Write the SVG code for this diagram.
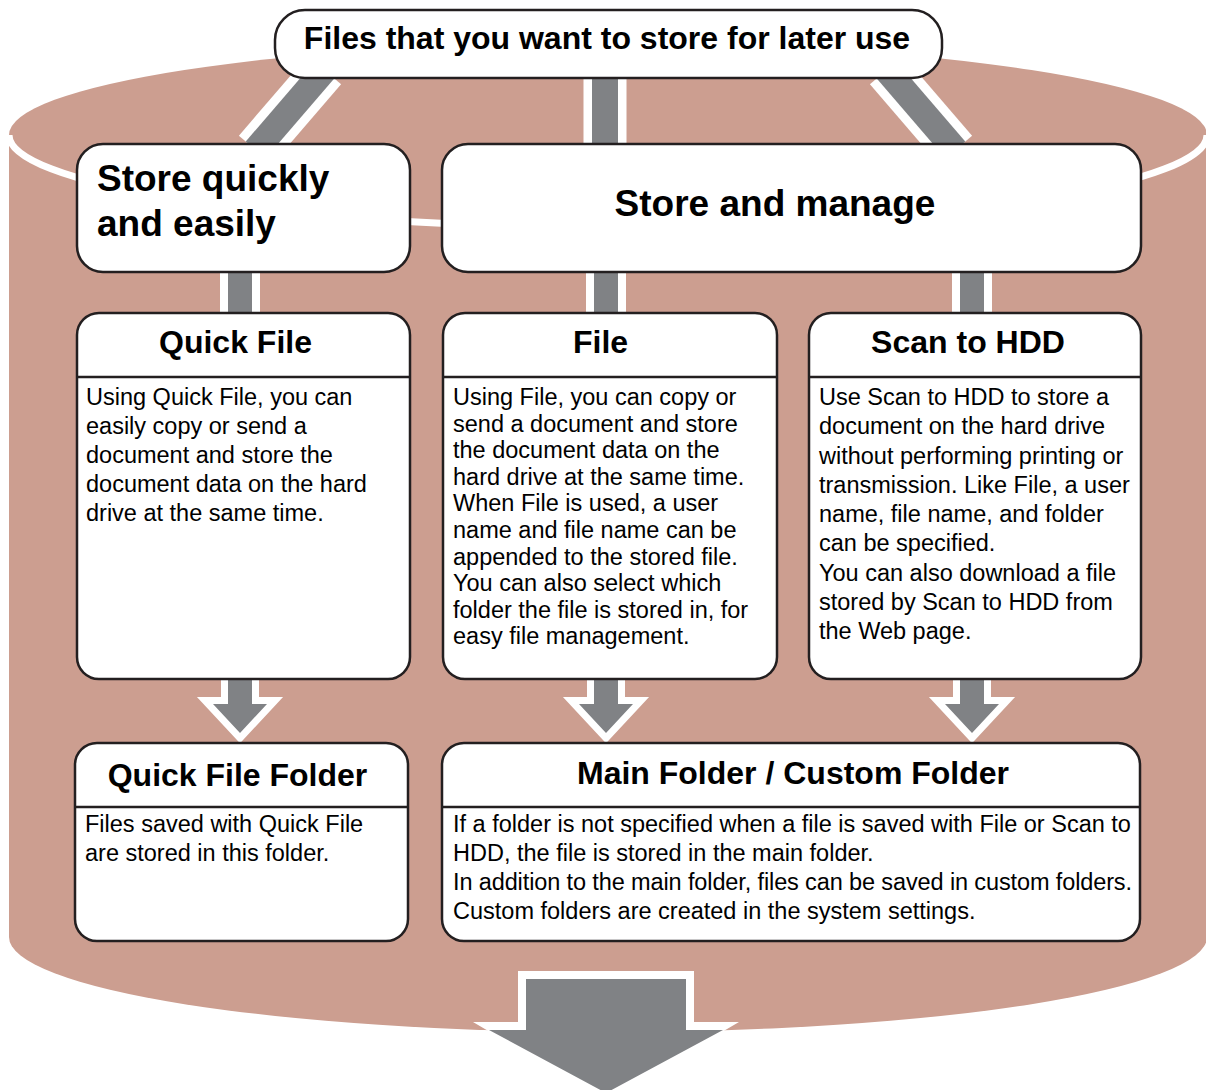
<svg xmlns="http://www.w3.org/2000/svg" width="1206" height="1090" viewBox="0 0 1206 1090">
<style>
.box{fill:#fff;stroke:#231f20;stroke-width:2.5}
.sep{stroke:#231f20;stroke-width:2.5}
.t{font-family:"Liberation Sans",Arial,sans-serif;fill:#000}
.h{font-weight:bold;font-size:32px}
.big{font-weight:bold;font-size:37px}
.b{font-size:23.5px}
.wl{stroke:#fff;fill:none}
.gl{stroke:#808285;fill:none}
.arr{fill:#808285;stroke:#fff;stroke-linejoin:miter;stroke-miterlimit:10;paint-order:stroke}
</style>
<g id="cylinder">
<path d="M9,135 V937 A599,95 0 0 0 1207,937 V135 Z" fill="#cc9e90"/>
<ellipse cx="608" cy="135" rx="599" ry="92" fill="#cc9e90"/>
<path d="M9,135 A599,92 0 0 0 1207,135" class="wl" stroke-width="7"/>
</g>
<g id="connectors">
<line x1="324.4" y1="70" x2="255.6" y2="150" class="wl" stroke-width="44"/>
<line x1="324.4" y1="70" x2="255.6" y2="150" class="gl" stroke-width="26"/>
<line x1="605" y1="70" x2="605" y2="150" class="wl" stroke-width="43"/>
<line x1="605" y1="70" x2="605" y2="150" class="gl" stroke-width="26"/>
<line x1="886.6" y1="70" x2="955.4" y2="150" class="wl" stroke-width="44"/>
<line x1="886.6" y1="70" x2="955.4" y2="150" class="gl" stroke-width="26"/>
<line x1="240" y1="265" x2="240" y2="320" class="wl" stroke-width="40"/>
<line x1="240" y1="265" x2="240" y2="320" class="gl" stroke-width="24"/>
<line x1="606" y1="265" x2="606" y2="320" class="wl" stroke-width="40"/>
<line x1="606" y1="265" x2="606" y2="320" class="gl" stroke-width="24"/>
<line x1="972" y1="265" x2="972" y2="320" class="wl" stroke-width="40"/>
<line x1="972" y1="265" x2="972" y2="320" class="gl" stroke-width="24"/>
<path class="arr" stroke-width="14" d="M228,670 H252 V704 H267 L240,733 L213,704 H228 Z"/>
<path class="arr" stroke-width="14" d="M594,670 H618 V704 H633 L606,733 L579,704 H594 Z"/>
<path class="arr" stroke-width="14" d="M960,670 H984 V704 H999 L972,733 L945,704 H960 Z"/>
<path fill="#fff" d="M518,971 H694 V1022 H739 L606,1100 L473,1022 H518 Z"/>
<path fill="#808285" d="M526,979 H686 V1030 H723 L606,1093 L489,1030 H526 Z"/>
</g>
<g id="n-top">
<rect class="box" x="275" y="10" width="667" height="68" rx="30"/>
<text class="t" x="607" y="49" font-weight="bold" font-size="32" text-anchor="middle">Files that you want to store for later use</text>
</g>
<g id="n-quick">
<rect class="box" x="77" y="144" width="333" height="128" rx="26"/>
<text class="t big" x="97" y="191">Store quickly</text>
<text class="t big" x="97" y="236">and easily</text>
</g>
<g id="n-manage">
<rect class="box" x="442" y="144" width="699" height="128" rx="26"/>
<text class="t big" x="775" y="216" text-anchor="middle">Store and manage</text>
</g>
<g id="n-quickfile">
<rect class="box" x="77" y="313" width="333" height="366" rx="22"/>
<line class="sep" x1="77" y1="377" x2="410" y2="377"/>
<text class="t h" x="235.5" y="353" text-anchor="middle">Quick File</text>
<text class="t b" x="86">
<tspan x="86" y="405">Using Quick File, you can</tspan>
<tspan x="86" y="434">easily copy or send a</tspan>
<tspan x="86" y="463">document and store the</tspan>
<tspan x="86" y="492">document data on the hard</tspan>
<tspan x="86" y="521">drive at the same time.</tspan>
</text>
</g>
<g id="n-file">
<rect class="box" x="443" y="313" width="334" height="366" rx="22"/>
<line class="sep" x1="443" y1="377" x2="777" y2="377"/>
<text class="t h" x="600.5" y="353" text-anchor="middle">File</text>
<text class="t b" x="453">
<tspan x="453" y="405">Using File, you can copy or</tspan>
<tspan x="453" y="431.6">send a document and store</tspan>
<tspan x="453" y="458.2">the document data on the</tspan>
<tspan x="453" y="484.8">hard drive at the same time.</tspan>
<tspan x="453" y="511.4">When File is used, a user</tspan>
<tspan x="453" y="538">name and file name can be</tspan>
<tspan x="453" y="564.6">appended to the stored file.</tspan>
<tspan x="453" y="591.2">You can also select which</tspan>
<tspan x="453" y="617.8">folder the file is stored in, for</tspan>
<tspan x="453" y="644.4">easy file management.</tspan>
</text>
</g>
<g id="n-scan">
<rect class="box" x="809" y="313" width="332" height="366" rx="22"/>
<line class="sep" x1="809" y1="377" x2="1141" y2="377"/>
<text class="t h" x="968" y="353" text-anchor="middle">Scan to HDD</text>
<text class="t b" x="819">
<tspan x="819" y="405">Use Scan to HDD to store a</tspan>
<tspan x="819" y="434.3">document on the hard drive</tspan>
<tspan x="819" y="463.5">without performing printing or</tspan>
<tspan x="819" y="492.8">transmission. Like File, a user</tspan>
<tspan x="819" y="522">name, file name, and folder</tspan>
<tspan x="819" y="551.3">can be specified.</tspan>
<tspan x="819" y="580.5">You can also download a file</tspan>
<tspan x="819" y="609.8">stored by Scan to HDD from</tspan>
<tspan x="819" y="639">the Web page.</tspan>
</text>
</g>
<g id="n-qff">
<rect class="box" x="75" y="743" width="333" height="198" rx="22"/>
<line class="sep" x1="75" y1="807" x2="408" y2="807"/>
<text class="t h" x="237.5" y="786" text-anchor="middle">Quick File Folder</text>
<text class="t b" x="85">
<tspan x="85" y="832">Files saved with Quick File</tspan>
<tspan x="85" y="861">are stored in this folder.</tspan>
</text>
</g>
<g id="n-main">
<rect class="box" x="442" y="743" width="698" height="198" rx="22"/>
<line class="sep" x1="442" y1="807" x2="1140" y2="807"/>
<text class="t h" x="793" y="784" text-anchor="middle">Main Folder / Custom Folder</text>
<text class="t b" x="453">
<tspan x="453" y="832">If a folder is not specified when a file is saved with File or Scan to</tspan>
<tspan x="453" y="861">HDD, the file is stored in the main folder.</tspan>
<tspan x="453" y="890" textLength="679" lengthAdjust="spacing">In addition to the main folder, files can be saved in custom folders.</tspan>
<tspan x="453" y="919">Custom folders are created in the system settings.</tspan>
</text>
</g>
</svg>
